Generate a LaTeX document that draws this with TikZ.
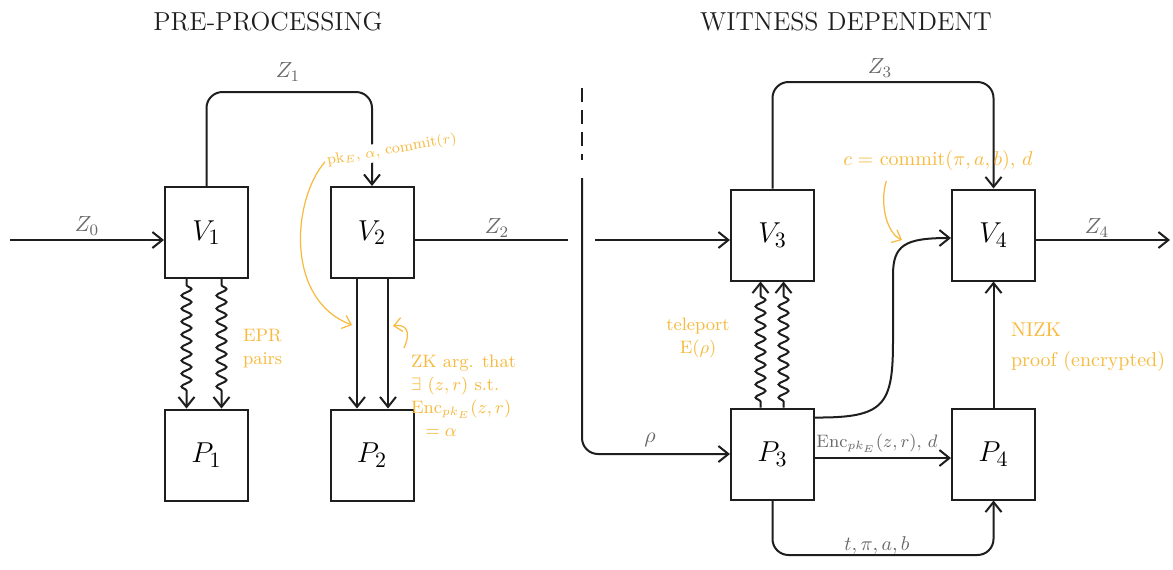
\documentclass[tikz,border=0pt]{standalone}
\usepackage{amsmath}
\usepackage{amssymb}
\usepackage{tikz}
\usetikzlibrary{
  arrows.meta,
  calc,
  decorations.pathmorphing
}
\definecolor{notecolor}{RGB}{247, 186, 60}
\definecolor{labelcolor}{RGB}{105, 105, 105}
\definecolor{linecolor}{RGB}{30, 30, 30}

\begin{document}
\begin{tikzpicture}[
    x=0.5pt, y=-0.5pt,
    % boxes
    box/.style={
        draw=linecolor,
        line width=1pt,
        minimum width=41.5pt,
        minimum height=45.5pt,
        inner sep=0pt,
        font=\fontsize{15}{17}\selectfont,
    },
    % connectors
    plainline/.style={line width=1pt, draw=linecolor},
    arrow/.style={-{Straight Barb[length=5pt, width=8pt]}, line width=1pt, draw=linecolor},
    wavyarrow/.style={arrow, decorate, decoration={snake, amplitude=2.5pt, segment length=6.5pt, pre length=3pt, post length=6pt}},
    notearrow/.style={-{Straight Barb[length=4pt, width=7pt]}, line width=0.6pt, draw=notecolor},
    % labels
    titlelabel/.style={font=\fontsize{13}{15}\selectfont, text=linecolor},
    sublabel/.style={font=\fontsize{11}{13}\selectfont, text=labelcolor},
    notelabel/.style={font=\fontsize{9}{11.5}\selectfont, text=notecolor},
]

\fill[white] (0,0) rectangle (1173,569);
\useasboundingbox (0,0) rectangle (1173,569);

% ---------------------------------------------------------------
% PRE-PROCESSING
% ---------------------------------------------------------------
\node[titlelabel] (title1) at (268,22) {PRE-PROCESSING};

\node[box] (v1) at (206.5,232.5) {$V_1$};
\node[box] (v2) at (372,232.5) {$V_2$};
\node[box] (p1) at (206.5,455) {$P_1$};
\node[box] (p2) at (372,455) {$P_2$};

\coordinate (in0) at (10,240);
\coordinate (z1top) at (290,92);
\coordinate (out2) at (568,240);

\draw[arrow] (in0) -- (in0 -| v1.west);
\node[sublabel] (z0) at (87,226) {$Z_0$};

\draw[arrow, rounded corners=8pt] (v1.north) |- (z1top) -| (v2.north);
\node[sublabel] (z1) at (288,72) {$Z_1$};

\draw[plainline] (out2 -| v2.east) -- (out2);
\node[sublabel] (z2) at (497,228) {$Z_2$};

\draw[wavyarrow] ($(v1.south)+(-20,0)$) -- ($(p1.north)+(-20,0)$);
\draw[wavyarrow] ($(v1.south)+(15,0)$) -- ($(p1.north)+(15,0)$);
\node[notelabel, align=left, anchor=north west] (epr) at (236,322) {EPR\\pairs};

\draw[arrow] ($(v2.south)+(-15,0)$) -- ($(p2.north)+(-15,0)$);
\draw[arrow] ($(v2.south)+(16,0)$) -- ($(p2.north)+(16,0)$);

\node[notelabel, fill=white, inner sep=1pt, rotate=10] (pk) at (392,150)
    {\fontsize{7.5}{9}\selectfont pk$_E$, $\alpha$, commit$(r)$};
\node[notelabel, align=left, anchor=north west] (zk) at (404,348)
    {ZK arg. that\\$\exists$ $(z,r)$ s.t.\\Enc$_{pk_E}(z,r)$\\\hspace{0.8em}$=\alpha$};

\coordinate (tgta) at (352,325);
\coordinate (tgtb) at (393,326);
\draw[notearrow] (pk.west) .. controls (292,200) and (285,300) .. (tgta);
\draw[notearrow] (zk.north west) .. controls (412,330) and (405,324) .. (tgtb);

% ---------------------------------------------------------------
% divider
% ---------------------------------------------------------------
\coordinate (divtop) at (582,88);
\coordinate (divmid) at (582,160);
\coordinate (rhotop) at (582,178);
\draw[plainline, dashed, dash pattern=on 7pt off 4pt] (divtop) -- (divmid);

% ---------------------------------------------------------------
% WITNESS DEPENDENT
% ---------------------------------------------------------------
\node[titlelabel] (title2) at (846,22) {WITNESS DEPENDENT};

\node[box] (v3) at (772.5,235) {$V_3$};
\node[box] (v4) at (993.5,235) {$V_4$};
\node[box] (p3) at (772.5,454) {$P_3$};
\node[box] (p4) at (993.5,454) {$P_4$};

\coordinate (in3) at (595,240);
\coordinate (z3top) at (880,82);
\coordinate (out4) at (1170,240);
\coordinate (tbot) at (880,555);

\draw[arrow, rounded corners=8pt] (rhotop) |- (p3.west);
\node[sublabel] (rho) at (650,440) {$\rho$};

\draw[arrow] (in3) -- (in3 -| v3.west);

\draw[arrow, rounded corners=8pt] (v3.north) |- (z3top) -| (v4.north);
\node[sublabel] (z3) at (880,68) {$Z_3$};

\draw[arrow] (out4 -| v4.east) -- (out4);
\node[sublabel] (z4) at (1097,228) {$Z_4$};

\draw[wavyarrow] ($(p3.north)+(-12,0)$) -- ($(v3.south)+(-12,0)$);
\draw[wavyarrow] ($(p3.north)+(11,0)$) -- ($(v3.south)+(11,0)$);
\node[notelabel, align=center] (tele) at (698,338) {teleport\\E$(\rho)$};

\draw[arrow] ($(p3.north east)+(0,10)$) .. controls (885,418) and (893,405) .. (893,340)
    -- (893,275) .. controls (893,245) and (905,238) .. ($(v4.west)+(0,3)$);
\node[notelabel, font=\fontsize{10}{12}\selectfont] (commit) at (938,160)
    {$c=$ commit$(\pi,a,b)$, $d$};
\coordinate (tgtc) at (902,240);
\draw[notearrow] ($(commit.south west)+(50,4)$) .. controls (880,200) and (885,232) .. (tgtc);

\draw[arrow] (p3.east |- 0,458) -- (p4.west |- 0,458);
\node[sublabel, font=\fontsize{9}{11}\selectfont] (enc) at (877,443) {Enc$_{pk_E}(z,r)$, $d$};

\draw[arrow, rounded corners=8pt] (p3.south) |- (tbot) -| (p4.south);
\node[sublabel, font=\fontsize{10}{12}\selectfont] (tpab) at (877,545) {$t,\pi,a,b$};

\draw[arrow] (p4.north) -- (v4.south);
\node[notelabel, align=left, anchor=north west, font=\fontsize{10}{15}\selectfont] (nizk) at (1004,316)
    {NIZK\\proof (encrypted)};

\end{tikzpicture}
\end{document}
